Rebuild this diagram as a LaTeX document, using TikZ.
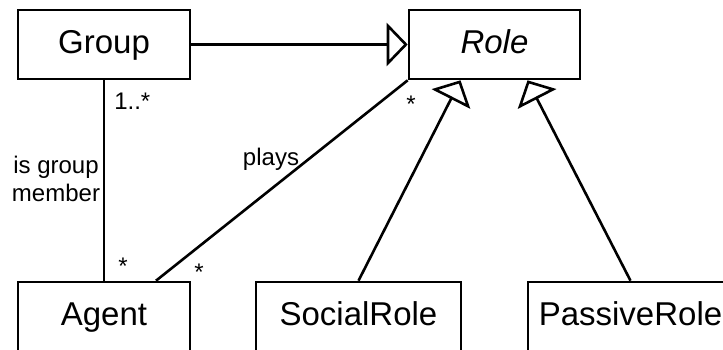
\documentclass[tikz,border=0pt]{standalone}
\usepackage{fontspec}
\setmainfont{Liberation Sans}
\usetikzlibrary{arrows.meta}
\begin{document}
\begin{tikzpicture}[x=0.5pt,y=-0.5pt,line width=1.3pt,
  cls/.style={draw,minimum width=86pt,minimum height=34.5pt,inner sep=0pt,
    text height=12.5pt,text depth=3.5pt,
    font=\fontsize{16.5}{19}\selectfont},
  lbl/.style={inner sep=0pt,font=\fontsize{12}{14}\selectfont},
  gen/.style={-{Triangle[open,length=10.5pt,width=21.5pt,fill=white]}}]
\useasboundingbox (0,0) rectangle (723,349);
\clip (0,0) rectangle (723,349);
% classes
\node[cls] (group) at (104,44.5) {Group};
\node[cls,minimum width=85.5pt] (role) at (494.5,44.5) {\itshape Role};
\node[cls] (agent) at (104,316.5) {Agent};
\node[cls,minimum width=102.5pt] (social) at (358.5,316.5) {SocialRole};
\node[cls,minimum width=102.5pt] (passive) at (630.5,316.5) {PassiveRole};
% generalisations
\draw[gen] (group.east) -- (role.west);
\draw[gen] (social.north) -- ([xshift=-17pt]role.south);
\draw[gen] (passive.north) -- ([xshift=16.5pt]role.south);
% associations
\draw (group.south) -- (agent.north);
\draw (role.south west) -- ([xshift=26pt]agent.north);
% association labels
\node[lbl,anchor=base west] (m1) at (113,109) {1..*};
\node[lbl,align=center,anchor=base] (gm) at (56,201) {is group\\member};
\node[lbl,anchor=base] (m2) at (123,274) {*};
\node[lbl,anchor=base] (pl) at (271,165) {plays};
\node[lbl,anchor=base] (m3) at (199,280) {*};
\node[lbl,anchor=base] (m4) at (411,112) {*};
\end{tikzpicture}
\end{document}
